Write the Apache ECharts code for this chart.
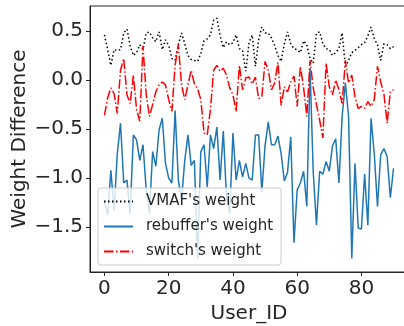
<!DOCTYPE html>
<html>
<head>
<meta charset="utf-8">
<script src="https://cdn.jsdelivr.net/npm/echarts@6/dist/echarts.min.js"></script>
<style>
  html, body { margin: 0; padding: 0; background: #fff; }
  #main { width: 404px; height: 326px; }
</style>
</head>
<body>
<div id="main"></div>
<script>
// values, one per user (0..90)
var vmafWeight = [
  0.46, 0.31, 0.15, 0.31, 0.30, 0.31, 0.48, 0.52, 0.35, 0.25,
  0.28, 0.36, 0.31, 0.48, 0.49, 0.43, 0.39, 0.49, 0.31, 0.41,
  0.35, 0.22, 0.20, 0.36, 0.48, 0.37, 0.25, 0.21, 0.20, 0.19,
  0.27, 0.40, 0.42, 0.46, 0.61, 0.63, 0.45, 0.33, 0.39, 0.36,
  0.38, 0.46, 0.32, 0.30, 0.09, 0.38, 0.46, 0.14, 0.41, 0.54,
  0.48, 0.48, 0.43, 0.35, 0.25, 0.19, 0.37, 0.49, 0.37, 0.32,
  0.31, 0.28, 0.40, 0.36, 0.22, 0.17, 0.48, 0.49, 0.37, 0.32,
  0.31, 0.25, 0.28, 0.32, 0.48, 0.14, 0.20, 0.28, 0.30, 0.33,
  0.36, 0.38, 0.45, 0.54, 0.42, 0.36, 0.20, 0.37, 0.36, 0.32,
  0.34
];
var rebufferWeight = [
  -1.24, -1.38, -0.92, -1.33, -0.75, -0.44, -1.05, -1.02, -1.36, -0.56,
  -0.61, -0.82, -0.66, -1.12, -1.36, -0.73, -0.88, -0.51, -0.39, -0.85,
  -1.00, -1.05, -0.31, -1.02, -1.22, -0.82, -0.56, -0.87, -0.82, -1.82,
  -0.73, -0.66, -1.09, -0.56, -0.70, -0.48, -1.02, -0.52, -1.20, -1.36,
  -0.54, -1.02, -0.82, -0.99, -0.85, -1.00, -1.02, -0.56, -0.56, -1.14,
  -0.67, -0.43, -0.66, -0.66, -0.57, -0.75, -1.03, -0.94, -0.58, -1.66,
  -1.12, -1.05, -0.93, -1.29, 0.12, -0.94, -1.48, -0.93, -0.96, -0.83,
  -0.93, -0.67, -0.60, -1.05, -0.37, -0.03, -0.37, -1.82, -0.85, -1.51,
  -1.52, -0.96, -1.48, -0.39, -0.75, -1.29, -0.76, -0.70, -0.78, -1.20,
  -0.90
];
var switchWeight = [
  -0.36, -0.18, -0.08, -0.14, -0.34, 0.10, 0.22, -0.15, -0.24, 0.05,
  -0.30, -0.42, 0.35, -0.15, -0.37, -0.25, -0.12, -0.05, -0.02, -0.05,
  -0.20, -0.32, 0.15, 0.36, -0.05, -0.20, -0.05, 0.10, -0.04, -0.09,
  -0.20, -0.54, -0.56, -0.30, 0.10, 0.15, 0.09, 0.12, 0.05, -0.08,
  -0.15, -0.32, 0.15, -0.10, 0.02, 0.03, -0.04, 0.03, -0.19, -0.17,
  0.19, 0.10, -0.10, -0.03, 0.18, -0.26, -0.07, -0.12, -0.02, 0.04,
  -0.27, 0.14, -0.08, -0.37, 0.20, -0.08, -0.25, -0.41, -0.59, 0.17,
  -0.07, -0.15, 0.00, -0.10, -0.24, 0.20, -0.03, 0.05, -0.17, -0.29,
  -0.27, -0.29, -0.22, -0.27, -0.20, 0.14, -0.02, -0.14, -0.44, -0.12,
  -0.10
];
var xTicks = [0, 20, 40, 60, 80];
var yTicks = [-1.5, -1.0, -0.5, 0.0, 0.5];

var font = 'DejaVu Sans';
var ink = '#262626';

function pairs(vals) {
  return vals.map(function (v, i) { return [i, v]; });
}
function fmt(v, digits) {
  var s = Math.abs(v).toFixed(digits);
  return v < 0 ? '\u2212' + s : s;
}

var chart = echarts.init(document.getElementById('main'), null, { renderer: 'canvas' });

var option = {
  animation: false,
  backgroundColor: '#fff',
  grid: {
    left: 90, top: 6, width: 318, height: 266,
    show: true, borderColor: ink, borderWidth: 1,
    backgroundColor: 'transparent',
    outerBoundsMode: 'none'
  },
  legend: {
    orient: 'vertical',
    left: 98, top: 188,
    padding: [6, 8, 6, 5],
    itemWidth: 29, itemHeight: 14, itemGap: 10,
    backgroundColor: 'rgba(255,255,255,0.8)',
    borderColor: '#cccccc', borderWidth: 1, borderRadius: 3,
    itemStyle: { opacity: 0, borderWidth: 0 },
    textStyle: { fontFamily: font, fontSize: 15, color: ink, padding: [0, 0, 0, 8] },
    data: ["VMAF's weight", "rebuffer's weight", "switch's weight"]
  },
  xAxis: {
    type: 'value',
    min: -4.5, max: 94.5,
    name: 'User_ID',
    nameLocation: 'middle',
    nameGap: 31,
    nameTextStyle: { fontFamily: font, fontSize: 20, color: ink },
    axisLine: { show: true, onZero: false, lineStyle: { color: ink, width: 1 } },
    axisTick: { show: true, length: 4, lineStyle: { color: ink }, customValues: xTicks },
    axisLabel: {
      fontFamily: font, fontSize: 20, color: ink, margin: 7,
      customValues: xTicks,
      formatter: function (v) { return fmt(v, 0); }
    },
    splitLine: { show: false }
  },
  yAxis: {
    type: 'value',
    min: -1.958, max: 0.755,
    name: 'Weight Difference',
    nameLocation: 'middle',
    nameGap: 60,
    nameMoveOverlap: false,
    nameTextStyle: { fontFamily: font, fontSize: 20, color: ink },
    axisLine: { show: true, onZero: false, lineStyle: { color: ink, width: 1 } },
    axisTick: { show: true, length: 4, lineStyle: { color: ink }, customValues: yTicks },
    axisLabel: {
      fontFamily: font, fontSize: 20, color: ink, margin: 7,
      customValues: yTicks,
      formatter: function (v) { return fmt(v, 1); }
    },
    splitLine: { show: false }
  },
  series: [
    {
      name: "VMAF's weight",
      type: 'line',
      symbol: 'none',
      data: pairs(vmafWeight),
      color: '#000000',
      lineStyle: { color: '#000000', width: 1.5, type: [1.5, 2.5] }
    },
    {
      name: "rebuffer's weight",
      type: 'line',
      symbol: 'none',
      data: pairs(rebufferWeight),
      color: '#1f77b4',
      lineStyle: { color: '#1f77b4', width: 1.5 }
    },
    {
      name: "switch's weight",
      type: 'line',
      symbol: 'none',
      data: pairs(switchWeight),
      color: '#ff0000',
      lineStyle: { color: '#ff0000', width: 1.5, type: [9.6, 2.4, 1.5, 2.4] }
    }
  ]
};

chart.setOption(option);
</script>
</body>
</html>
